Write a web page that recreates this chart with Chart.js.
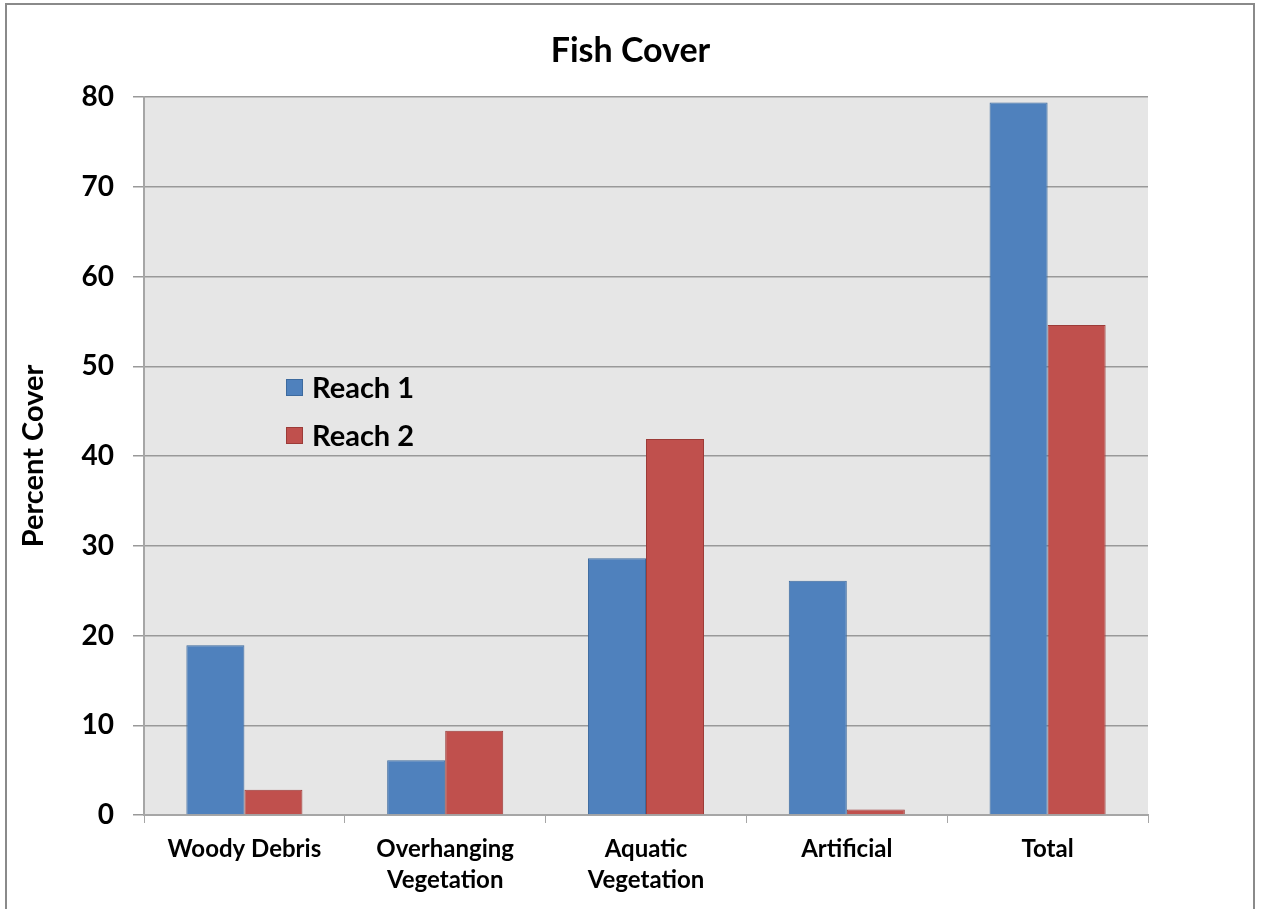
<!DOCTYPE html>
<html>
<head>
<meta charset="utf-8">
<script src="https://cdn.jsdelivr.net/npm/chart.js@4/dist/chart.umd.min.js"></script>
<style>
  html, body { margin: 0; padding: 0; background: #fff; overflow: hidden; }
  #frame { position: absolute; left: 5px; top: 3px; width: 1246px; height: 1000px; border: 2px solid #8a8a8a; }
  #c { position: absolute; left: 0; top: 0; }
</style>
</head>
<body>
<div id="frame"></div>
<canvas id="c" width="1261" height="909"></canvas>
<script>
// Cover categories and percent cover per reach
const categories = [["Woody Debris"], ["Overhanging", "Vegetation"], ["Aquatic", "Vegetation"], ["Artificial"], ["Total"]];
const reach1 = [18.9, 6.1, 28.6, 26.1, 79.4];
const reach2 = [2.8, 9.4, 41.9, 0.6, 54.6];
const seriesNames = ["Reach 1", "Reach 2"];
const yTicks = [0, 10, 20, 30, 40, 50, 60, 70, 80];
const chartTitle = "Fish Cover";

const FONT = "Lato, 'Open Sans', sans-serif";

// Grey plot background behind the bars
const plotBackground = {
  id: 'plotBackground',
  beforeDraw(chart) {
    const { ctx, chartArea: a } = chart;
    ctx.save();
    ctx.fillStyle = '#e6e6e6';
    ctx.fillRect(a.left, a.top, a.right - a.left, a.bottom - a.top);
    ctx.restore();
  }
};

// Title centred on the whole canvas, above the plot
const centredTitle = {
  id: 'centredTitle',
  afterDraw(chart) {
    const { ctx } = chart;
    ctx.save();
    ctx.font = "bold 34px " + FONT;
    ctx.fillStyle = '#000';
    ctx.textAlign = 'center';
    ctx.textBaseline = 'middle';
    ctx.fillText(chartTitle, chart.width / 2, 51);
    ctx.restore();
  }
};

// Legend drawn inside the plot area
const insideLegend = {
  id: 'insideLegend',
  afterDraw(chart) {
    const { ctx } = chart;
    const x = 286, y0 = 379, rowGap = 48, box = 17;
    ctx.save();
    ctx.font = "bold 29px " + FONT;
    ctx.textBaseline = 'middle';
    chart.data.datasets.forEach((ds, i) => {
      const y = y0 + i * rowGap;
      ctx.fillStyle = ds.backgroundColor;
      ctx.fillRect(x, y, box, box);
      ctx.strokeStyle = ds.borderColor;
      ctx.lineWidth = 1;
      ctx.strokeRect(x + 0.5, y + 0.5, box - 1, box - 1);
      ctx.fillStyle = '#000';
      ctx.fillText(ds.label, x + box + 9, y + box / 2 + 1);
    });
    ctx.restore();
  }
};

new Chart(document.getElementById('c'), {
  type: 'bar',
  data: {
    labels: categories,
    datasets: [
      { label: seriesNames[0], data: reach1, backgroundColor: '#4f81bd', borderColor: '#3d6a9e', borderWidth: 1 },
      { label: seriesNames[1], data: reach2, backgroundColor: '#c0504d', borderColor: '#9c3b38', borderWidth: 1 }
    ]
  },
  options: {
    responsive: false,
    animation: false,
    devicePixelRatio: 1,
    layout: { padding: { left: 0, right: 113, top: 97, bottom: 0 } },
    datasets: { bar: { barPercentage: 1.0, categoryPercentage: 0.578 } },
    plugins: {
      legend: { display: false },
      tooltip: { enabled: false },
      title: { display: false }
    },
    scales: {
      x: {
        grid: { display: true, drawOnChartArea: false, drawTicks: true, tickLength: 8, offset: true, color: '#a6a6a6' },
        border: { display: true, color: '#a6a6a6', width: 2 },
        ticks: { color: '#000', font: { family: FONT, size: 24, weight: 'bold', lineHeight: 1.29 }, padding: 11, maxRotation: 0, autoSkip: false },
        afterFit(scale) { scale.height = 94; }
      },
      y: {
        min: 0,
        max: 80,
        afterBuildTicks(scale) { scale.ticks = yTicks.map(v => ({ value: v })); },
        grid: { color: '#999999', lineWidth: 1.5, drawTicks: true, tickLength: 11 },
        border: { display: true, color: '#a6a6a6', width: 2 },
        ticks: { color: '#000', font: { family: FONT, size: 28, weight: 'bold' }, padding: 19 },
        title: {
          display: true,
          text: 'Percent Cover',
          color: '#000',
          font: { family: FONT, size: 29, weight: 'bold', lineHeight: 1.2 },
          padding: { top: 16, bottom: 0 }
        },
        afterFit(scale) { scale.width = 144; }
      }
    }
  },
  plugins: [plotBackground, centredTitle, insideLegend]
});
</script>
</body>
</html>
